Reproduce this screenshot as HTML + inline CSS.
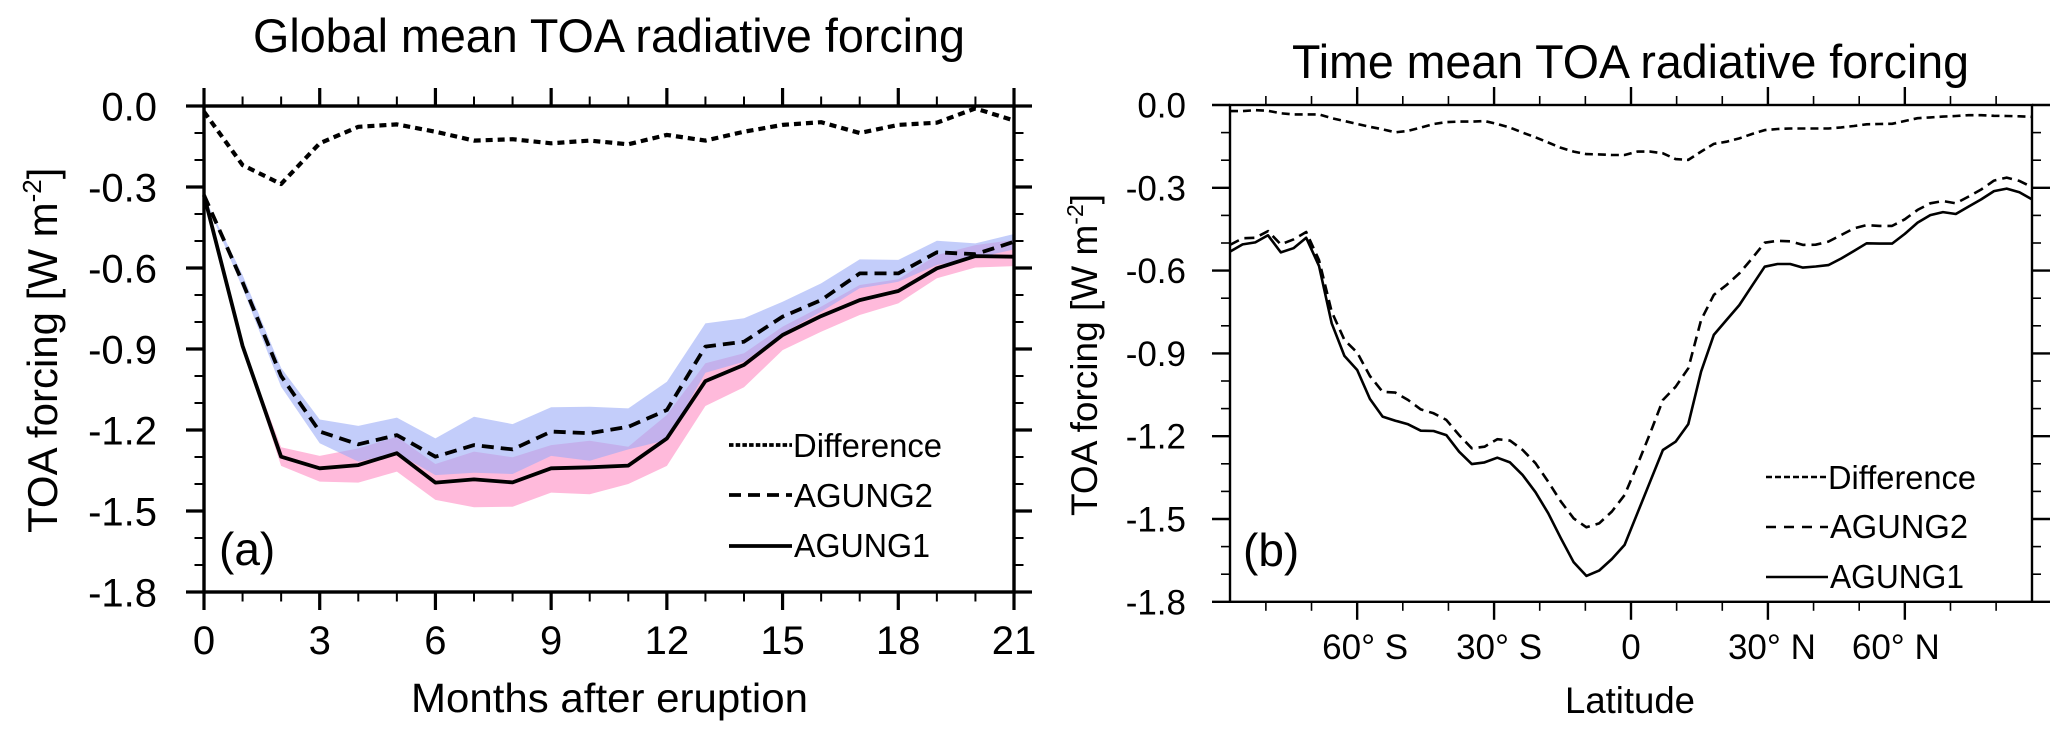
<!DOCTYPE html>
<html lang="en">
<head>
<meta charset="utf-8">
<title>TOA radiative forcing</title>
<style>
html,body{margin:0;padding:0;background:#fff;}
svg{display:block;}
text{font-family:"Liberation Sans",Arial,sans-serif;fill:#000;}
</style>
</head>
<body>
<svg id="figure" width="2067" height="739" viewBox="0 0 2067 739" xmlns="http://www.w3.org/2000/svg">
  <rect x="0" y="0" width="2067" height="739" fill="#fff"/>
  <g id="panelA"></g>
  <g id="panelB"></g>

  <text x="253" y="52" font-size="47" textLength="712" lengthAdjust="spacingAndGlyphs">Global mean TOA radiative forcing</text>
  <text x="411" y="712" font-size="41" textLength="397" lengthAdjust="spacingAndGlyphs">Months after eruption</text>
  <text transform="translate(57 533) rotate(-90)" font-size="42">TOA forcing [W m<tspan font-size="26" dy="-16">-2</tspan><tspan dy="16">]</tspan></text>
  <text x="219" y="565" font-size="46">(a)</text>
  <text x="793" y="457" font-size="33" textLength="149" lengthAdjust="spacingAndGlyphs">Difference</text>
  <text x="794" y="507" font-size="33" textLength="139" lengthAdjust="spacingAndGlyphs">AGUNG2</text>
  <text x="794" y="557" font-size="33" textLength="136" lengthAdjust="spacingAndGlyphs">AGUNG1</text>
  <line x1="729" y1="445" x2="792" y2="445" stroke="#000" stroke-width="3.8" stroke-dasharray="4.5 2.2"/>
  <line x1="729" y1="495" x2="792" y2="495" stroke="#000" stroke-width="3.8" stroke-dasharray="12 7"/>
  <line x1="729" y1="546" x2="792" y2="546" stroke="#000" stroke-width="3.8"/>

  <text x="1292" y="78" font-size="47" textLength="677" lengthAdjust="spacingAndGlyphs">Time mean TOA radiative forcing</text>
  <text x="1565" y="713" font-size="37" textLength="130" lengthAdjust="spacingAndGlyphs">Latitude</text>
  <text transform="translate(1097 516) rotate(-90)" font-size="37">TOA forcing [W m<tspan font-size="23" dy="-14">-2</tspan><tspan dy="14">]</tspan></text>
  <text x="1243" y="566" font-size="46">(b)</text>
  <text x="1828" y="489" font-size="33" textLength="148" lengthAdjust="spacingAndGlyphs">Difference</text>
  <text x="1830" y="538" font-size="33" textLength="138" lengthAdjust="spacingAndGlyphs">AGUNG2</text>
  <text x="1830" y="588" font-size="33" textLength="134" lengthAdjust="spacingAndGlyphs">AGUNG1</text>
  <line x1="1766" y1="477" x2="1828" y2="477" stroke="#000" stroke-width="2.6" stroke-dasharray="6 3"/>
  <line x1="1766" y1="527" x2="1828" y2="527" stroke="#000" stroke-width="2.6" stroke-dasharray="10 8"/>
  <line x1="1766" y1="577" x2="1828" y2="577" stroke="#000" stroke-width="2.6"/>
</svg>

<script>
// ---------- Panel (a) data: global mean forcing by month ----------
const months = [0,1,2,3,4,5,6,7,8,9,10,11,12,13,14,15,16,17,18,19,20,21];
const agung1Monthly = [-0.330,-0.889,-1.299,-1.342,-1.330,-1.286,-1.395,-1.383,-1.394,-1.342,-1.338,-1.332,-1.231,-1.019,-0.959,-0.848,-0.778,-0.719,-0.685,-0.601,-0.556,-0.558];
const agung2Monthly = [-0.330,-0.653,-1.000,-1.206,-1.253,-1.219,-1.299,-1.256,-1.272,-1.206,-1.212,-1.188,-1.126,-0.891,-0.873,-0.780,-0.719,-0.620,-0.620,-0.542,-0.549,-0.503];
const differenceMonthly = [-0.021,-0.219,-0.289,-0.138,-0.077,-0.068,-0.095,-0.128,-0.123,-0.138,-0.128,-0.142,-0.107,-0.128,-0.095,-0.070,-0.060,-0.100,-0.070,-0.062,-0.009,-0.054];
const agung2Upper = [-0.336,-0.626,-0.970,-1.161,-1.185,-1.154,-1.231,-1.151,-1.178,-1.116,-1.114,-1.120,-1.021,-0.805,-0.786,-0.725,-0.657,-0.568,-0.570,-0.499,-0.509,-0.474];
const agung2Lower = [-0.336,-0.675,-1.040,-1.249,-1.317,-1.286,-1.367,-1.358,-1.363,-1.296,-1.314,-1.272,-1.237,-0.988,-0.947,-0.842,-0.762,-0.675,-0.651,-0.589,-0.564,-0.531];
const agung1Upper = [-0.330,-0.885,-1.264,-1.296,-1.268,-1.225,-1.326,-1.280,-1.301,-1.256,-1.240,-1.262,-1.144,-0.953,-0.916,-0.817,-0.743,-0.663,-0.642,-0.552,-0.515,-0.496];
const agung1Lower = [-0.330,-0.893,-1.333,-1.391,-1.395,-1.354,-1.459,-1.486,-1.484,-1.432,-1.438,-1.400,-1.333,-1.111,-1.042,-0.904,-0.836,-0.774,-0.731,-0.638,-0.598,-0.593];
const monthMajorTicks = [0,3,6,9,12,15,18,21];
const monthMinorTicks = [1,2,4,5,7,8,10,11,13,14,16,17,19,20];
const monthTickLabels = ["0","3","6","9","12","15","18","21"];

// ---------- Panel (b) data: time mean forcing by latitude ----------
const latitudes = [-87.86,-85.10,-82.31,-79.53,-76.74,-73.95,-71.16,-68.37,-65.58,-62.79,-60.00,-57.21,-54.42,-51.63,-48.84,-46.05,-43.25,-40.46,-37.67,-34.88,-32.09,-29.30,-26.51,-23.72,-20.93,-18.14,-15.35,-12.56,-9.77,-6.98,-4.19,-1.40,1.40,4.19,6.98,9.77,12.56,15.35,18.14,20.93,23.72,26.51,29.30,32.09,34.88,37.67,40.46,43.25,46.05,48.84,51.63,54.42,57.21,60.00,62.79,65.58,68.37,71.16,73.95,76.74,79.53,82.31,85.10,87.86];
const agung1Zonal = [-0.531,-0.505,-0.498,-0.472,-0.534,-0.519,-0.481,-0.583,-0.791,-0.909,-0.960,-1.065,-1.129,-1.144,-1.157,-1.180,-1.181,-1.196,-1.256,-1.301,-1.295,-1.278,-1.295,-1.341,-1.403,-1.479,-1.570,-1.657,-1.706,-1.687,-1.645,-1.594,-1.479,-1.365,-1.250,-1.220,-1.156,-0.966,-0.833,-0.779,-0.725,-0.655,-0.586,-0.576,-0.576,-0.589,-0.585,-0.580,-0.556,-0.529,-0.501,-0.502,-0.502,-0.467,-0.426,-0.399,-0.388,-0.395,-0.368,-0.342,-0.312,-0.303,-0.316,-0.342];
const agung2Zonal = [-0.507,-0.483,-0.481,-0.457,-0.505,-0.487,-0.460,-0.562,-0.749,-0.851,-0.897,-0.982,-1.039,-1.042,-1.069,-1.103,-1.117,-1.141,-1.196,-1.244,-1.238,-1.211,-1.216,-1.250,-1.298,-1.365,-1.437,-1.498,-1.530,-1.516,-1.473,-1.413,-1.304,-1.190,-1.069,-1.021,-0.954,-0.779,-0.688,-0.652,-0.610,-0.556,-0.499,-0.492,-0.494,-0.507,-0.506,-0.495,-0.471,-0.447,-0.435,-0.438,-0.438,-0.414,-0.380,-0.356,-0.348,-0.356,-0.332,-0.306,-0.274,-0.263,-0.275,-0.298];
const differenceZonal = [-0.022,-0.022,-0.019,-0.021,-0.030,-0.034,-0.034,-0.034,-0.048,-0.058,-0.069,-0.079,-0.088,-0.099,-0.094,-0.082,-0.069,-0.062,-0.060,-0.060,-0.058,-0.069,-0.082,-0.100,-0.117,-0.136,-0.155,-0.169,-0.178,-0.179,-0.181,-0.181,-0.169,-0.169,-0.175,-0.196,-0.199,-0.169,-0.141,-0.133,-0.121,-0.105,-0.091,-0.087,-0.085,-0.085,-0.085,-0.085,-0.081,-0.076,-0.070,-0.069,-0.068,-0.058,-0.048,-0.045,-0.042,-0.040,-0.037,-0.037,-0.039,-0.040,-0.041,-0.043];
const latMajorTicks = [-60,-30,0,30,60];
const latMinorTicks = [-80,-70,-50,-40,-20,-10,10,20,40,50,70,80];
const latTickLabels = ["60° S","30° S","0","30° N","60° N"];

// ---------- Shared y axis ----------
const forcingMajorTicks = [0,-0.3,-0.6,-0.9,-1.2,-1.5,-1.8];
const forcingMinorTicks = [-0.1,-0.2,-0.4,-0.5,-0.7,-0.8,-1.0,-1.1,-1.3,-1.4,-1.6,-1.7];
const forcingTickLabels = ["0.0","-0.3","-0.6","-0.9","-1.2","-1.5","-1.8"];

const SVG_NS = "http://www.w3.org/2000/svg";
function make(parent, tag, attrs) {
  const el = document.createElementNS(SVG_NS, tag);
  for (const k in attrs) el.setAttribute(k, attrs[k]);
  parent.appendChild(el);
  return el;
}

const xA = m => 204 + m * 810 / 21;
const yA = v => 106 - v * 270;
const xB = lat => 1631 + lat * 4.564;
const yB = v => 105 - v * 276;

function drawLine(parent, name, xs, ys, xf, yf, width, dash) {
  const pts = xs.map((x, i) => xf(x).toFixed(1) + "," + yf(ys[i]).toFixed(1)).join(" ");
  const el = make(parent, "polyline", {points: pts, fill: "none", stroke: "#000", "stroke-width": width, "stroke-linejoin": "round"});
  if (dash) el.setAttribute("stroke-dasharray", dash);
  
  
}

function drawBand(parent, name, xs, upper, lower, xf, yf, fill, opacity) {
  const top = xs.map((x, i) => xf(x).toFixed(1) + "," + yf(upper[i]).toFixed(1));
  const bottom = xs.map((x, i) => xf(x).toFixed(1) + "," + yf(lower[i]).toFixed(1)).reverse();
  const el = make(parent, "polygon", {points: top.concat(bottom).join(" "), fill: fill, "fill-opacity": opacity});
  
  
}

function drawAxes(parent, o) {
  const L = o.xf(o.xMin), R = o.xf(o.xMax), T = o.yf(0), B = o.yf(-1.8);
  // x ticks on top and bottom
  [[T, -1, "top"], [B, 1, "bottom"]].forEach(side => {
    o.xMajor.forEach(t => {
      const p = o.xf(t);
      const el = make(parent, "line", {x1: p, x2: p, y1: side[0], y2: side[0] + side[1] * o.majorLen, stroke: "#000", "stroke-width": o.majorW});
      
      
    });
    o.xMinor.forEach(t => {
      const p = o.xf(t);
      const el = make(parent, "line", {x1: p, x2: p, y1: side[0], y2: side[0] + side[1] * o.minorLen, stroke: "#000", "stroke-width": o.minorW});
      
      
    });
  });
  // y ticks on left and right
  [[L, -1, "left"], [R, 1, "right"]].forEach(side => {
    forcingMajorTicks.forEach(t => {
      const p = o.yf(t);
      const el = make(parent, "line", {x1: side[0], x2: side[0] + side[1] * o.majorLen, y1: p, y2: p, stroke: "#000", "stroke-width": o.majorW});
      
      
    });
    forcingMinorTicks.forEach(t => {
      const p = o.yf(t);
      const el = make(parent, "line", {x1: side[0], x2: side[0] + side[1] * o.minorLen, y1: p, y2: p, stroke: "#000", "stroke-width": o.minorW});
      
      
    });
  });
  // frame
  const frame = make(parent, "rect", {x: L, y: T, width: R - L, height: B - T, fill: "none", stroke: "#000", "stroke-width": o.frameW});
  
  
  // y tick labels
  forcingMajorTicks.forEach((t, i) => {
    const el = make(parent, "text", {x: o.yLabelX, y: o.yf(t) + o.yLabelDy, "font-size": o.labelSize, "text-anchor": "end"});
    el.textContent = forcingTickLabels[i];
    
    
  });
  // x tick labels
  o.xMajor.forEach((t, i) => {
    const el = make(parent, "text", {x: o.xf(t) + (o.xLabelShift ? o.xLabelShift[i] : 0), y: o.xLabelY, "font-size": o.labelSize, "text-anchor": "middle"});
    el.textContent = o.xLabels[i];
    
    
  });
}

const panelA = document.getElementById("panelA");
const panelB = document.getElementById("panelB");

// Panel (a)
drawBand(panelA, "agung1-spread-band", months, agung1Upper, agung1Lower, xA, yA, "#ffbadb", 1);
drawBand(panelA, "agung2-spread-band", months, agung2Upper, agung2Lower, xA, yA, "#9bacf7", 0.6);
drawLine(panelA, "agung1-line", months, agung1Monthly, xA, yA, 3.8, null);
drawLine(panelA, "agung2-line", months, agung2Monthly, xA, yA, 3.8, "12 7");
drawLine(panelA, "difference-line", months, differenceMonthly, xA, yA, 4.2, "7 5");
drawAxes(panelA, {
  xf: xA, yf: yA, xMin: 0, xMax: 21,
  xMajor: monthMajorTicks, xMinor: monthMinorTicks, xLabels: monthTickLabels,
  majorLen: 18, minorLen: 9.5, majorW: 3.2, minorW: 2, frameW: 3.4,
  yLabelX: 157, yLabelDy: 14.5, labelSize: 40, xLabelY: 654
});

// Panel (b)
drawLine(panelB, "agung1-zonal-line", latitudes, agung1Zonal, xB, yB, 2.6, null);
drawLine(panelB, "agung2-zonal-line", latitudes, agung2Zonal, xB, yB, 2.6, "10 6");
drawLine(panelB, "difference-zonal-line", latitudes, differenceZonal, xB, yB, 2.6, "8 5");
drawAxes(panelB, {
  xf: xB, yf: yB, xMin: -87.86, xMax: 87.86,
  xMajor: latMajorTicks, xMinor: latMinorTicks, xLabels: latTickLabels, xLabelShift: [8, 5, 0, 4, -9],
  majorLen: 18, minorLen: 9, majorW: 2.4, minorW: 1.6, frameW: 2.4,
  yLabelX: 1186, yLabelDy: 12.5, labelSize: 35, xLabelY: 659
});
</script>
</body>
</html>
